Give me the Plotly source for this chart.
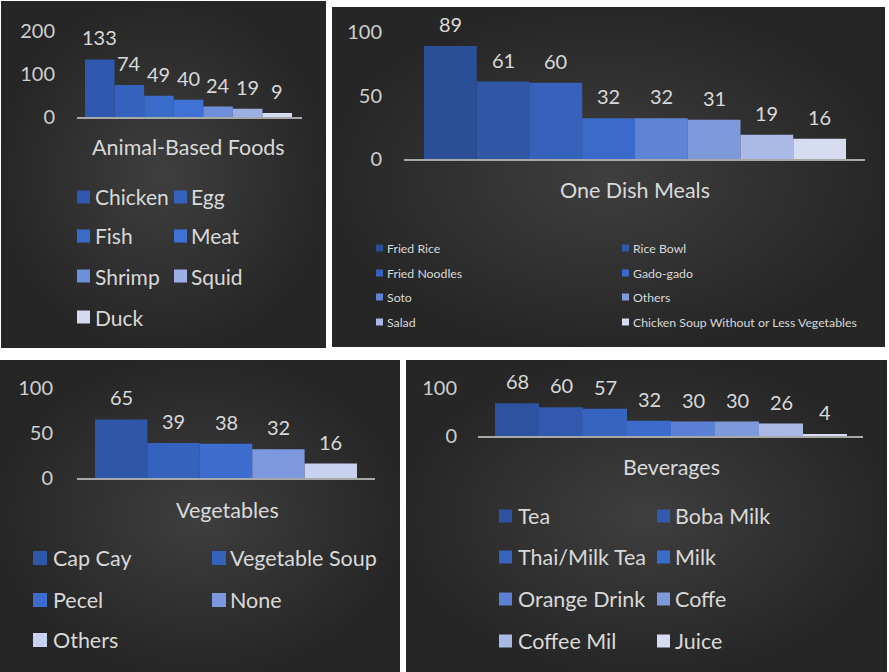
import plotly.graph_objects as go

W, H = 889, 672

# ---------------- data ----------------
animal_cats = ["Chicken", "Egg", "Fish", "Meat", "Shrimp", "Squid", "Duck"]
animal_vals = [133, 74, 49, 40, 24, 19, 9]

meal_cats = ["Fried Rice", "Rice Bowl", "Fried Noodles", "Gado-gado", "Soto", "Others",
             "Salad", "Chicken Soup Without or Less Vegetables"]
meal_vals = [89, 61, 60, 32, 32, 31, 19, 16]

veg_cats = ["Cap Cay", "Vegetable Soup", "Pecel", "None", "Others"]
veg_vals = [65, 39, 38, 32, 16]

bev_cats = ["Tea", "Boba Milk", "Thai/Milk Tea", "Milk", "Orange Drink", "Coffe",
            "Coffee Mil", "Juice"]
bev_vals = [68, 60, 57, 32, 30, 30, 26, 4]

animal_ticks = [0, 100, 200]
meal_ticks = [0, 50, 100]
veg_ticks = [0, 50, 100]
bev_ticks = [0, 100]

# ---------------- styles ----------------
animal_colors = ["#2F59AE", "#3462BC", "#396BC9", "#3F72D4", "#6E8FDA", "#9CB0E3", "#D4DAF0"]
meal_colors = ["#2B4F96", "#3058A7", "#3662BB", "#3C6ACA", "#5F83D5", "#7F9ADB", "#AAB9E5", "#D5DCF0"]
veg_colors = ["#2E57A8", "#3562BD", "#3C6DCF", "#7D98DC", "#C8D1EE"]
bev_colors = ["#2D53A0", "#3159AE", "#3764BE", "#3B6BCB", "#5C80D4", "#7F9ADC", "#A9B9E6", "#D8DEF2"]

FONT = "Lato"
TXT = "#D9D9D9"
TICK = "#CFCFCF"
TITLE_FS = 21.5
LABEL_FS = 20
TICK_FS = 20


def px(x):
    return x / W


def py(y):
    return 1 - y / H


fig = go.Figure()
shapes = []
annotations = []

panels = [
    dict(cats=animal_cats, vals=animal_vals, cols=animal_colors, ticks=animal_ticks,
         bounds=(1, 1, 326, 348), px_x=(77, 302), px_y=(30.5, 117), ymax=200, bars=(85, 292),
         title="Animal-Based Foods", title_pos=(188, 147), standoff=21,
         legend=dict(rows=[197, 236, 276, 317], c1=(77, 94), c2=(174, 190), sq=13, fs=21)),
    dict(cats=meal_cats, vals=meal_vals, cols=meal_colors, ticks=meal_ticks,
         bounds=(332, 7, 885, 347), px_x=(404, 865), px_y=(32, 159), ymax=100, bars=(424, 846),
         title="One Dish Meals", title_pos=(635, 190), standoff=21,
         legend=dict(rows=[248, 273, 297, 322], c1=(376, 386), c2=(622, 632), sq=7, fs=12.3)),
    dict(cats=veg_cats, vals=veg_vals, cols=veg_colors, ticks=veg_ticks,
         bounds=(0, 360, 400, 672), px_x=(77, 375), px_y=(388, 478), ymax=100, bars=(95, 357),
         title="Vegetables", title_pos=(227, 510), standoff=23,
         legend=dict(rows=[558, 600, 640], c1=(33, 52), c2=(212, 229), sq=14, fs=21.5)),
    dict(cats=bev_cats, vals=bev_vals, cols=bev_colors, ticks=bev_ticks,
         bounds=(406, 360, 887, 672), px_x=(478, 863), px_y=(388, 436), ymax=100, bars=(495, 847),
         title="Beverages", title_pos=(671, 467), standoff=20,
         legend=dict(rows=[516, 557, 599, 641], c1=(499, 517), c2=(657, 674), sq=13, fs=21.5)),
]

layout_axes = {}
for k, p in enumerate(panels):
    n = len(p["cats"])
    sfx = "" if k == 0 else str(k + 1)
    xa, ya = "x" + sfx, "y" + sfx

    # panel background with radial-like vignette
    x0, y0, x1, y1 = p["bounds"]
    shapes.append(dict(type="rect", xref="paper", yref="paper", x0=px(x0), x1=px(x1),
                       y0=py(y1), y1=py(y0), fillcolor="#262626", line=dict(width=0),
                       layer="below"))
    cx, cy = (x0 + x1) / 2, (y0 + y1) / 2
    hw, hh = (x1 - x0) / 2, (y1 - y0) / 2
    steps = 24
    for s in range(steps):
        f = 1.0 - s / steps
        shapes.append(dict(type="circle", xref="paper", yref="paper",
                           x0=px(cx - hw * f), x1=px(cx + hw * f),
                           y0=py(cy + hh * f), y1=py(cy - hh * f),
                           fillcolor="#FFFFFF", opacity=0.0085, line=dict(width=0),
                           layer="below"))

    # axis geometry
    bw = (p["bars"][1] - p["bars"][0]) / n
    r0 = -0.5 - (p["bars"][0] - p["px_x"][0]) / bw
    r1 = n - 0.5 + (p["px_x"][1] - p["bars"][1]) / bw

    fig.add_trace(go.Bar(x=list(range(n)), y=p["vals"], width=1,
                         marker=dict(color=p["cols"], line=dict(width=0)),
                         xaxis=xa, yaxis=ya, showlegend=False,
                         hovertext=p["cats"], hoverinfo="text+y"))

    layout_axes["xaxis" + sfx] = dict(
        domain=[px(p["px_x"][0]), px(p["px_x"][1])], range=[r0, r1],
        anchor=ya, showline=True, linecolor="#A8A8A8", linewidth=2, automargin=False,
        showticklabels=False, ticks="", showgrid=False, zeroline=False, fixedrange=True)
    layout_axes["yaxis" + sfx] = dict(
        domain=[py(p["px_y"][1]), py(p["px_y"][0])], range=[0, p["ymax"]],
        anchor=xa, tickvals=p["ticks"], ticktext=[str(t) for t in p["ticks"]],
        tickfont=dict(family=FONT, size=TICK_FS, color=TICK), showgrid=False, zeroline=False,
        showline=False, ticks="", ticklabelstandoff=p["standoff"], fixedrange=True,
        automargin=False)

    # data labels
    for i, v in enumerate(p["vals"]):
        annotations.append(dict(x=i, y=v, xref=xa, yref=ya, text=str(v), showarrow=False,
                                yanchor="middle", xanchor="center", yshift=22,
                                font=dict(family=FONT, size=LABEL_FS, color=TXT)))

    # category title
    tx, ty = p["title_pos"]
    annotations.append(dict(x=px(tx), y=py(ty), xref="paper", yref="paper", text=p["title"],
                            showarrow=False, xanchor="center", yanchor="middle",
                            font=dict(family=FONT, size=TITLE_FS, color=TXT)))

    # legend (two columns)
    lg = p["legend"]
    for i, (name, col) in enumerate(zip(p["cats"], p["cols"])):
        row = lg["rows"][i // 2]
        sqx, tx0 = lg["c1"] if i % 2 == 0 else lg["c2"]
        s = lg["sq"]
        shapes.append(dict(type="rect", xref="paper", yref="paper",
                           x0=px(sqx), x1=px(sqx + s), y0=py(row + s / 2), y1=py(row - s / 2),
                           fillcolor=col, line=dict(width=0)))
        annotations.append(dict(x=px(tx0), y=py(row), xref="paper", yref="paper", text=name,
                                showarrow=False, xanchor="left", yanchor="middle",
                                borderpad=0,
                                font=dict(family=FONT, size=lg["fs"], color=TXT)))

fig.update_layout(
    template="none",
    width=W, height=H, margin=dict(l=0, r=0, t=0, b=0, pad=0, autoexpand=False),
    paper_bgcolor="#FFFFFF", plot_bgcolor="rgba(0,0,0,0)",
    shapes=shapes, annotations=annotations, showlegend=False,
    font=dict(family=FONT, color=TXT),
    **layout_axes,
)

fig.write_html("out.html")
